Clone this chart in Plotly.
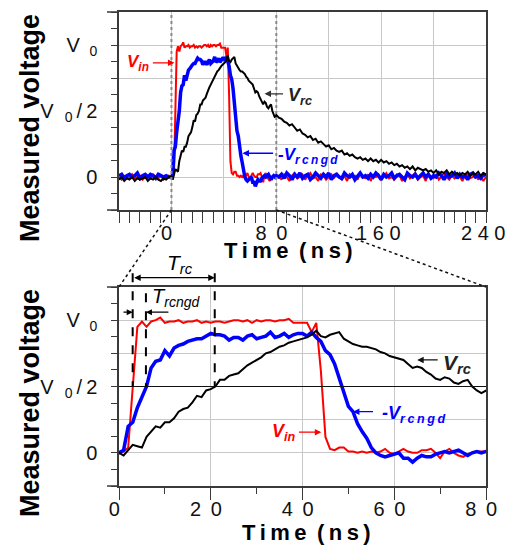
import plotly.graph_objects as go

# ---------------- data ----------------
time_ns = list(range(-40, 0, 2)) + list(range(0, 81)) + list(range(82, 241, 2))

v_in = [
    # -40 .. -2 (step 2)
    0.00, -0.02, 0.01, 0.00, -0.01, 0.02, -0.01, 0.00, 0.01, -0.02,
    0.00, 0.01, -0.01, 0.02, 0.00, -0.01, 0.01, -0.02, 0.00, 0.01,
    # 0 .. 80 (step 1)
    0.00, 0.01, 0.04, 0.50, 0.95, 0.99, 0.95, 0.99, 1.00, 1.02,
    0.98, 0.99, 0.99, 1.00, 0.98, 0.99, 0.99, 1.00, 0.98, 0.99,
    0.98, 0.99, 0.99, 0.98, 0.99, 1.00, 1.00, 0.99, 1.00, 0.98,
    1.00, 0.99, 1.00, 1.00, 0.99, 1.00, 1.00, 1.01, 0.98, 0.98,
    0.98, 0.98, 0.91, 0.98, 0.62, 0.12, 0.03, 0.02, 0.04, 0.04,
    0.01, 0.01, 0.00, 0.01, 0.00, 0.01, 0.00, 0.01, 0.03, 0.00,
    -0.01, 0.01, 0.03, 0.01, 0.00, 0.00, 0.02, 0.02, 0.03, 0.00,
    -0.04, 0.01, 0.03, 0.00, -0.02, -0.03, -0.01, 0.00, 0.01, 0.01, 0.01,
    # 82 .. 240 (step 2)
    0.01, -0.02, 0.02, 0.00, -0.03, 0.01, 0.03, -0.01, 0.00, 0.02,
    -0.02, 0.01, 0.03, -0.01, 0.00, -0.03, 0.02, 0.01, -0.02, 0.00,
    0.02, -0.01, 0.03, 0.00, -0.02, 0.01, -0.03, 0.02, 0.00, 0.01,
    -0.02, 0.03, 0.00, -0.01, 0.02, -0.03, 0.01, 0.00, 0.02, -0.02,
    0.01, 0.03, -0.01, 0.00, -0.02, 0.02, 0.01, -0.03, 0.00, 0.02,
    -0.01, 0.01, 0.03, -0.02, 0.00, 0.01, -0.03, 0.02, 0.00, -0.01,
    0.02, -0.02, 0.01, 0.03, 0.00, -0.02, 0.01, -0.01, 0.02, 0.00,
    -0.03, 0.01, 0.02, -0.01, 0.00, 0.02, -0.02, 0.01, -0.03, 0.00,
]

v_rcngd = [
    # -40 .. -2
    0.01, 0.02, -0.01, 0.01, 0.02, 0.00, 0.01, 0.03, -0.01, 0.01,
    0.02, 0.00, 0.02, 0.01, -0.01, 0.02, 0.01, 0.00, 0.01, 0.00,
    # 0 .. 80
    0.00, 0.02, 0.20, 0.23, 0.34, 0.42, 0.50, 0.64, 0.69, 0.70,
    0.77, 0.73, 0.79, 0.81, 0.82, 0.84, 0.85, 0.86, 0.86, 0.88,
    0.90, 0.89, 0.89, 0.88, 0.85, 0.87, 0.87, 0.85, 0.88, 0.89,
    0.86, 0.87, 0.88, 0.91, 0.87, 0.88, 0.90, 0.87, 0.89, 0.90,
    0.90, 0.88, 0.91, 0.87, 0.84, 0.77, 0.74, 0.67, 0.56, 0.46,
    0.35, 0.31, 0.22, 0.16, 0.11, 0.04, 0.00, -0.02, -0.03, -0.02,
    -0.01, 0.00, -0.04, -0.04, -0.07, -0.04, -0.02, -0.03, -0.03, -0.01,
    0.00, 0.01, 0.00, 0.01, 0.02, 0.00, -0.02, 0.00, 0.01, 0.00, 0.01,
    # 82 .. 240
    0.00, 0.02, -0.01, 0.03, 0.01, -0.02, 0.02, 0.00, 0.03, -0.01,
    0.01, 0.02, -0.02, 0.00, 0.03, 0.01, -0.01, 0.02, 0.00, 0.03,
    -0.02, 0.01, 0.02, 0.00, -0.01, 0.03, 0.01, 0.00, 0.02, -0.02,
    0.01, 0.03, 0.00, 0.01, -0.01, 0.02, 0.00, 0.03, 0.01, -0.02,
    0.02, 0.00, 0.01, 0.03, -0.01, 0.01, 0.02, 0.00, -0.02, 0.03,
    0.01, 0.00, 0.02, -0.01, 0.01, 0.03, 0.00, 0.02, -0.01, 0.01,
    0.00, 0.03, 0.01, -0.02, 0.02, 0.00, 0.01, 0.03, -0.01, 0.02,
    0.00, 0.01, -0.02, 0.02, 0.03, 0.00, 0.01, -0.01, 0.02, 0.01,
]

v_rc = [
    # -40 .. -2
    -0.02, 0.00, -0.03, -0.01, -0.02, 0.00, -0.03, -0.01, -0.02, -0.01,
    0.00, -0.03, -0.01, -0.02, 0.00, -0.02, -0.03, -0.01, -0.02, 0.00,
    # 0 .. 80
    0.00, -0.02, 0.02, 0.06, 0.05, 0.04, 0.12, 0.16, 0.20, 0.19,
    0.23, 0.23, 0.26, 0.31, 0.33, 0.34, 0.38, 0.43, 0.42, 0.47,
    0.48, 0.50, 0.55, 0.55, 0.58, 0.59, 0.60, 0.63, 0.66, 0.68,
    0.70, 0.72, 0.75, 0.76, 0.78, 0.80, 0.81, 0.83, 0.84, 0.85,
    0.86, 0.87, 0.89, 0.92, 0.88, 0.87, 0.89, 0.90, 0.91, 0.86,
    0.84, 0.82, 0.81, 0.80, 0.80, 0.79, 0.78, 0.76, 0.75, 0.73,
    0.72, 0.71, 0.70, 0.67, 0.64, 0.65, 0.64, 0.61, 0.59, 0.56,
    0.55, 0.57, 0.56, 0.53, 0.52, 0.54, 0.55, 0.50, 0.47, 0.45, 0.47,
    # 82 .. 240
    0.45, 0.44, 0.42, 0.41, 0.39, 0.40, 0.37, 0.35, 0.36, 0.33,
    0.32, 0.30, 0.31, 0.28, 0.29, 0.26, 0.27, 0.25, 0.23, 0.24,
    0.21, 0.22, 0.20, 0.19, 0.20, 0.17, 0.18, 0.16, 0.17, 0.15,
    0.14, 0.15, 0.13, 0.14, 0.12, 0.14, 0.12, 0.13, 0.11, 0.13,
    0.11, 0.12, 0.10, 0.11, 0.09, 0.10, 0.08, 0.09, 0.07, 0.08,
    0.06, 0.08, 0.05, 0.07, 0.06, 0.05, 0.06, 0.04, 0.05, 0.03,
    0.05, 0.02, 0.04, 0.03, 0.05, 0.02, 0.04, 0.02, 0.03, 0.01,
    0.03, 0.02, 0.04, 0.01, 0.03, 0.02, 0.04, 0.01, 0.03, 0.02,
]

SP = " \u2009"          # wide letter spacing used by the original tick labels
TR = "\u00a0\u2009"     # trailing pad: original labels sit a little left of their ticks
y_tickvals = [0, 0.25, 0.5, 0.75, 1.0]
y_ticktext = ["0", "", "V\u00a0\u00a0<sub>0</sub>\u2009/\u20092", "", "V\u00a0\u2009<sub>0</sub>"]
top_xtickvals = [-40, 0, 40, 80, 120, 160, 200, 240]
top_xticktext = ["", "0" + TR, "", "8" + SP + "0" + TR, "", "1 6 0\u00a0",
                 "", "2 4 0\u00a0"]
bot_xtickvals = [0, 20, 40, 60, 80]
bot_xticktext = ["0" + TR, "2" + SP + "0" + TR, "4" + SP + "0" + TR, "6" + SP + "0" + TR,
                 "8" + SP + "0" + TR]

# ---------------- styling ----------------
FONT = "Liberation Sans, Arial, sans-serif"
RED = "#ff0000"
BLUE = "#0000ff"
BLACK = "#000000"
AXC = "#3a3a3a"
GRID = "#c8c8c8"

# page has an 8px body margin: the figure is sized to fit the 515x545 window
OFF = 8
FW, FH = 515 - OFF, 545 - OFF


def px(x):  # window pixel -> paper x
    return (x - OFF) / FW


def py(y):  # window pixel -> paper y
    return 1 - (y - OFF) / FH


XD = [px(119), px(486)]
YD_TOP = [py(210), py(12)]
YD_BOT = [py(486), py(287)]
TOP_XR = [-40, 240]
BOT_XR = [0, 80]
YR = [-0.25, 1.25]


def xp(t, xr):
    return XD[0] + (t - xr[0]) / (xr[1] - xr[0]) * (XD[1] - XD[0])


def yp(v, yd):
    return yd[0] + (v - YR[0]) / (YR[1] - YR[0]) * (yd[1] - yd[0])


fig = go.Figure()
for xa, ya in (("x", "y"), ("x2", "y2")):
    fig.add_trace(go.Scatter(x=time_ns, y=v_in, xaxis=xa, yaxis=ya, mode="lines",
                             line=dict(color=RED, width=2), hoverinfo="skip"))
    fig.add_trace(go.Scatter(x=time_ns, y=v_rcngd, xaxis=xa, yaxis=ya, mode="lines",
                             line=dict(color=BLUE, width=3.5), hoverinfo="skip"))
    fig.add_trace(go.Scatter(x=time_ns, y=v_rc, xaxis=xa, yaxis=ya, mode="lines",
                             line=dict(color=BLACK, width=2), hoverinfo="skip"))

tickfont = dict(family=FONT, size=20, color="#111")
common_axis = dict(showline=True, mirror=True, linecolor=AXC, linewidth=1.5,
                   gridcolor=GRID, gridwidth=1, zeroline=False, tickfont=tickfont,
                   tickcolor=AXC, tickwidth=1.2, ticks="outside", automargin=False,
                   ticklabeloverflow="allow")

fig.update_layout(
    width=FW, height=FH, margin=dict(l=0, r=0, t=0, b=0, autoexpand=False),
    paper_bgcolor="white", plot_bgcolor="white", showlegend=False,
    xaxis=dict(domain=XD, range=TOP_XR, anchor="y", tickmode="array",
               tickvals=top_xtickvals, ticktext=top_xticktext, ticklen=11, ticklabelstandoff=-7,
               minor=dict(tickmode="linear", tick0=0, dtick=8, ticks="outside",
                          ticklen=11, tickwidth=1.2, tickcolor=AXC, showgrid=False),
               **common_axis),
    yaxis=dict(domain=YD_TOP, range=YR, anchor="x", tickmode="array",
               tickvals=y_tickvals, ticktext=y_ticktext, ticklen=6, ticklabelstandoff=10,
               minor=dict(tickmode="linear", tick0=0, dtick=0.125, ticks="outside",
                          ticklen=6, tickwidth=1.2, tickcolor=AXC, showgrid=False),
               **common_axis),
    xaxis2=dict(domain=XD, range=BOT_XR, anchor="y2", tickmode="array",
                tickvals=bot_xtickvals, ticktext=bot_xticktext, ticklen=12, ticklabelstandoff=-8,
                minor=dict(tickmode="linear", tick0=0, dtick=10, ticks="outside",
                           ticklen=6, tickwidth=1.2, tickcolor=AXC, showgrid=False),
                **common_axis),
    yaxis2=dict(domain=YD_BOT, range=YR, anchor="x2", tickmode="array",
                tickvals=y_tickvals, ticktext=y_ticktext, ticklen=6, ticklabelstandoff=10,
                minor=dict(tickmode="linear", tick0=0, dtick=0.125, ticks="outside",
                           ticklen=6, tickwidth=1.2, tickcolor=AXC, showgrid=False),
                **common_axis),
)

shapes = []
for t in (0, 80):
    shapes.append(dict(type="line", xref="x", yref="y domain", x0=t, x1=t, y0=0, y1=1,
                       line=dict(color="#8a8a8a", width=2, dash="dot")))
shapes.append(dict(type="line", xref="x2 domain", yref="y2", x0=0, x1=1, y0=0.5, y1=0.5,
                   line=dict(color="#111", width=1.2)))
shapes.append(dict(type="line", xref="paper", yref="paper",
                   x0=xp(0, TOP_XR), y0=YD_TOP[0], x1=XD[0], y1=YD_BOT[1],
                   line=dict(color="#111", width=1.5, dash="dot")))
shapes.append(dict(type="line", xref="paper", yref="paper",
                   x0=xp(80, TOP_XR), y0=YD_TOP[0], x1=XD[1], y1=YD_BOT[1],
                   line=dict(color="#111", width=1.5, dash="dot")))
for yref in ("y domain", "y2 domain"):
    for yy in (0, 1):
        shapes.append(dict(type="line", xref="paper", yref=yref, x0=px(107), x1=XD[0],
                           y0=yy, y1=yy, line=dict(color=AXC, width=1.5)))
for t, vtop in ((2.98, 1.354), (20.87, 1.354), (5.87, 1.203)):
    shapes.append(dict(type="line", xref="x2", yref="paper", x0=t, x1=t,
                       y0=yp(vtop, YD_BOT), y1=yp(0.5, YD_BOT),
                       line=dict(color="#000", width=2, dash="dash")))
fig.update_layout(shapes=shapes)

ann = []


def arrow(xr, yr, x, y, ax, color, width=1.3, **kw):
    d = dict(xref=xr, yref=yr, x=x, y=y, ax=ax, ay=0, axref=xr, ayref="pixel", text="",
             showarrow=True, arrowhead=2, arrowsize=1, arrowwidth=width, arrowcolor=color)
    d.update(kw)
    return d


def label(xr, yr, x, y, text, color, size, xanchor="left"):
    return dict(xref=xr, yref=yr, x=x, y=y, text=text, showarrow=False, xanchor=xanchor,
                yanchor="middle", font=dict(family=FONT, size=size, color=color))


sub_rcngd = "r\u2009c\u2009n\u2009g\u2009d"
ann.append(arrow("x", "y", 2.3, 0.865, -15.3, RED))
ann.append(label("x", "y", -25.2, 0.86, "<b><i>V</i></b><sub><b><i>in</i></b></sub>", RED, 17, "center"))
ann.append(arrow("x", "y", 71.0, 0.63, 86.3, "#333"))
ann.append(label("x", "y", 87.5, 0.61, "<b><i>V</i></b><sub><b><i>rc</i></b></sub>", "#222", 18))
ann.append(arrow("x", "y", 54.2, 0.18, 78.7, BLUE))
ann.append(label("x", "y", 80.0, 0.16, "<b><i>-V</i></b><sub><b><i>" + sub_rcngd + "</i></b></sub>", BLUE, 17))
ann.append(arrow("x2", "y2", 65.0, 0.70, 69.8, "#111"))
ann.append(label("x2", "y2", 70.2, 0.67, "<b><i>V</i></b><sub><b><i>rc</i></b></sub>", "#222", 21))
ann.append(arrow("x2", "y2", 51.0, 0.31, 55.7, BLUE))
ann.append(label("x2", "y2", 57.0, 0.29, "<b><i>-V</i></b><sub><b><i>" + sub_rcngd + "</i></b></sub>", BLUE, 18))
ann.append(arrow("x2", "y2", 44.1, 0.156, 38.9, RED))
ann.append(label("x2", "y2", 36.0, 0.15, "<b><i>V</i></b><sub><b><i>in</i></b></sub>", RED, 18, "center"))
ann.append(dict(xref="x2", yref="paper", x=20.87, y=yp(1.32, YD_BOT), ax=2.98, ay=0,
                axref="x2", ayref="pixel", text="", showarrow=True, arrowhead=2, startarrowhead=2,
                arrowside="end+start", arrowsize=1, arrowwidth=1.3, arrowcolor="#000"))
ann.append(dict(xref="x2", yref="paper", x=13.3, y=yp(1.42, YD_BOT), text="<i>T</i><sub><i>rc</i></sub>",
                showarrow=False, xanchor="center", yanchor="middle",
                font=dict(family=FONT, size=21, color="#000")))
ann.append(arrow("x2", "y2", 2.98, 1.06, 0.65, "#000", 1.2))
ann.append(arrow("x2", "y2", 5.87, 1.06, 11.1, "#000", 1.2))
ann.append(dict(xref="x2", yref="y2", x=12.4, y=1.17, text="<i>T</i><sub><i>rcngd</i></sub>",
                showarrow=False, xanchor="center", yanchor="middle",
                font=dict(family=FONT, size=20, color="#000")))
xtitle = "<b>T\u2009i\u2009m\u2009e\u2009 (\u2009n\u2009s\u2009)</b>"
ann.append(dict(xref="paper", yref="paper", x=px(288), y=py(250), text=xtitle, showarrow=False,
                xanchor="center", yanchor="middle", font=dict(family=FONT, size=22, color="#000")))
ann.append(dict(xref="paper", yref="paper", x=px(306), y=py(532), text=xtitle, showarrow=False,
                xanchor="center", yanchor="middle", font=dict(family=FONT, size=22, color="#000")))
for yc in (128, 403):
    ann.append(dict(xref="paper", yref="paper", x=px(30), y=py(yc), text="<b>Measured voltage</b>",
                    showarrow=False, textangle=-90, xanchor="center", yanchor="middle",
                    font=dict(family=FONT, size=27, color="#000")))
fig.update_layout(annotations=ann)

fig.write_html("out.html")
